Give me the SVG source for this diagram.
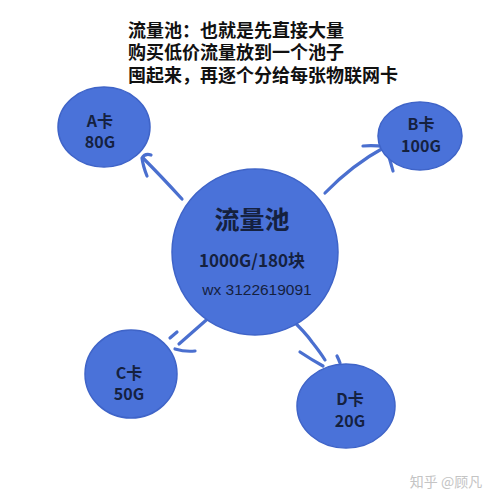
<svg xmlns="http://www.w3.org/2000/svg" width="500" height="500" viewBox="0 0 500 500">
<style>
.n{fill:#4a72d9;stroke:#3f64c8;stroke-width:1.5}
.t{font-family:"Noto Sans CJK SC","Liberation Sans",sans-serif;font-weight:bold;fill:#15213f;text-anchor:middle}
.c{fill:none;stroke:#4a6fcf;stroke-width:3.2;stroke-linecap:round;stroke-linejoin:round}
.h{font-family:"Noto Sans CJK SC",sans-serif;font-weight:bold;font-size:18px;fill:#111}
</style>
<rect width="500" height="500" fill="#fff"/>
<g id="title">
<text class="h" x="128" y="37">流量池：也就是先直接大量</text>
<text class="h" x="128" y="59">购买低价流量放到一个池子</text>
<text class="h" x="128" y="82">囤起来，再逐个分给每张物联网卡</text>
</g>
<g id="connectors">
<path class="c" d="M182,199 Q160,175 143,158"/>
<path class="c" d="M151,155 Q145,153 142,158 Q143,166 147,176"/>
<path class="c" d="M325,193 Q352,165 385,147"/>
<path class="c" d="M363,146 Q375,145 385,147 Q390,158 393,171"/>
<path class="c" d="M212,315 L179,344"/>
<path class="c" d="M170,338 L177,332"/>
<path class="c" d="M175,349 Q185,352 195,351"/>
<path class="c" d="M290,318 Q305,332 312,342 Q320,352 325,360"/>
<path class="c" d="M300,352 Q312,360 323,366"/>
<path class="c" d="M337,356 Q339,360 340,363"/>
</g>
<g id="pool">
<circle class="n" cx="255" cy="252" r="83"/>
<text class="t" x="252" y="229" font-size="25">流量池</text>
<text class="t" x="252" y="267" font-size="17">1000G/180块</text>
<text x="257" y="295" font-family="'Liberation Sans',Arial,sans-serif" font-size="15.5" fill="#15213f" text-anchor="middle">wx 3122619091</text>
</g>
<g id="cardA">
<ellipse class="n" cx="104" cy="127" rx="46" ry="40"/>
<text class="t" x="100" y="127" font-size="16">A卡</text>
<text class="t" x="100" y="148" font-size="16">80G</text>
</g>
<g id="cardB">
<ellipse class="n" cx="420" cy="136" rx="42" ry="34"/>
<text class="t" x="421" y="130" font-size="16">B卡</text>
<text class="t" x="421" y="152" font-size="16">100G</text>
</g>
<g id="cardC">
<ellipse class="n" cx="131" cy="374" rx="46" ry="44"/>
<text class="t" x="129" y="379" font-size="16">C卡</text>
<text class="t" x="129" y="400" font-size="16">50G</text>
</g>
<g id="cardD">
<ellipse class="n" cx="346" cy="406" rx="49" ry="42"/>
<text class="t" x="350" y="405" font-size="16">D卡</text>
<text class="t" x="350" y="427" font-size="16">20G</text>
</g>
<text x="446" y="487" font-family="'Noto Sans CJK SC',sans-serif" font-size="14" fill="#c4c4c4" text-anchor="middle">知乎 @顾凡</text>
</svg>
